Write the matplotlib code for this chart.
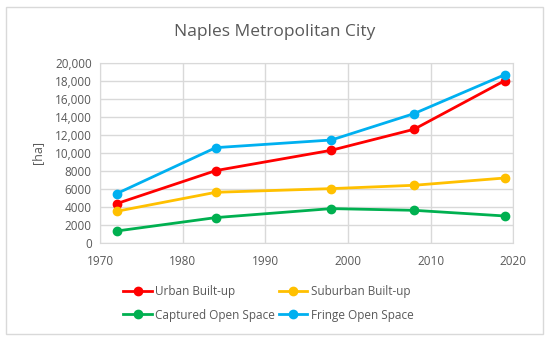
import matplotlib.pyplot as plt
from matplotlib.patches import Rectangle
from matplotlib.ticker import FuncFormatter

years = [1972, 1984, 1998, 2008, 2019]
urban_builtup = [4370, 8040, 10300, 12630, 18040]
suburban_builtup = [3520, 5630, 6040, 6410, 7220]
captured_open = [1330, 2820, 3820, 3630, 3000]
fringe_open = [5480, 10590, 11440, 14370, 18700]

series = [
    ("Urban Built-up", urban_builtup, "#ff0000"),
    ("Suburban Built-up", suburban_builtup, "#ffc000"),
    ("Captured Open Space", captured_open, "#00b050"),
    ("Fringe Open Space", fringe_open, "#00b0f0"),
]

plt.rcParams["font.family"] = ["Open Sans", "DejaVu Sans"]
text_col = "#595959"
grid_col = "#d9d9d9"

fig = plt.figure(figsize=(5.5, 3.42), dpi=100)
fig.patches.append(Rectangle((6 / 550, 1 - 334 / 342), 537 / 550, 327 / 342,
                             transform=fig.transFigure, fill=False,
                             edgecolor="#d9d9d9", linewidth=1))

ax = fig.add_axes([0.182, 0.2895, 0.751, 0.5265])
lines = {}
for name, vals, col in series:
    lines[name], = ax.plot(years, vals, color=col, lw=2, marker="o", ms=6,
                           label=name)

ax.set_xlim(1970, 2020)
ax.set_ylim(0, 20000)
ax.set_xticks(range(1970, 2021, 10))
ax.set_yticks(range(0, 20001, 2000))
ax.yaxis.set_major_formatter(FuncFormatter(
    lambda v, p: f"{int(v):,}" if v >= 10000 else f"{int(v)}"))
ax.grid(True, color=grid_col, lw=1)
ax.set_axisbelow(True)
for s in ax.spines.values():
    s.set_color(grid_col)
ax.tick_params(length=0, labelsize=8.5, labelcolor=text_col, pad=6)
ax.tick_params(axis="x", pad=9)
ax.set_ylabel("[ha]", color=text_col, fontsize=9, labelpad=8)

fig.text(0.5, 1 - 32 / 342, "Naples Metropolitan City", ha="center",
         va="center", fontsize=12.5, color=text_col)

# row-wise legend order, like the original
order = ["Urban Built-up", "Captured Open Space",
         "Suburban Built-up", "Fringe Open Space"]
leg = fig.legend([lines[n] for n in order], order, loc="center",
                 bbox_to_anchor=(0.488, 0.1126), ncol=2,
                 frameon=False, fontsize=8.5, handlelength=2.4,
                 columnspacing=0.3, handletextpad=0.3, labelspacing=0.85)
for t in leg.get_texts():
    t.set_color(text_col)

fig.savefig("out.png", dpi=100)
